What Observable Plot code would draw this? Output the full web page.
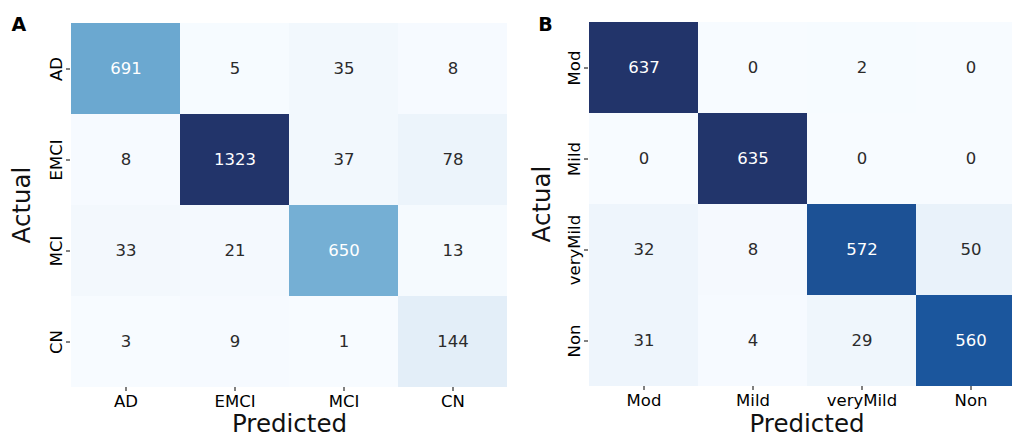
<!DOCTYPE html>
<html>
<head>
<meta charset="utf-8">
<script src="https://cdn.jsdelivr.net/npm/d3@7"></script>
<script src="https://cdn.jsdelivr.net/npm/@observablehq/plot@0.6"></script>
<style>
  html, body { margin: 0; padding: 0; background: #fff; }
  #wrap { position: relative; width: 1012px; height: 438px; overflow: hidden; font-family: "DejaVu Sans", sans-serif; }
  #pa, #pb { position: absolute; top: 0; }
  #pa { left: 0; width: 510px; }
  #pb { left: 510px; width: 515px; }
  #wrap svg { max-width: none !important; }
</style>
</head>
<body>
<div id="wrap"><div id="pa"></div><div id="pb"></div></div>
<script>
// Panel A data
const catsA = ["AD", "EMCI", "MCI", "CN"];
const valuesA = [
  [691, 5, 35, 8],
  [8, 1323, 37, 78],
  [33, 21, 650, 13],
  [3, 9, 1, 144]
];
// Panel B data
const catsB = ["Mod", "Mild", "veryMild", "Non"];
const valuesB = [
  [637, 0, 2, 0],
  [0, 635, 0, 0],
  [32, 8, 572, 50],
  [31, 4, 29, 560]
];
const colorStops = ["#f7fbff", "#e0ecf7", "#c8dcee", "#a0c9e0", "#72add3", "#4a93c4", "#2a72b2", "#1b579f", "#22346a"];
const blues = d3.piecewise(d3.interpolateRgb, colorStops);

function toRows(cats, vals) {
  const rows = [];
  cats.forEach((a, i) => cats.forEach((p, j) => rows.push({actual: a, pred: p, value: vals[i][j]})));
  return rows;
}

function heat(cats, vals, opts) {
  const data = toRows(cats, vals);
  const lo = d3.min(data, d => d.value), hi = d3.max(data, d => d.value);
  const font = "DejaVu Sans";
  return Plot.plot({
    width: opts.width,
    height: 438,
    marginLeft: opts.ml,
    marginRight: opts.mr,
    marginTop: opts.mt,
    marginBottom: 438 - opts.bottom,
    style: {fontFamily: font, background: "transparent", overflow: "visible", maxWidth: "none"},
    x: {domain: cats, padding: 0},
    y: {domain: cats, padding: 0},
    color: {type: "linear", domain: [lo, hi], interpolate: blues},
    marks: [
      Plot.cell(data, {x: "pred", y: "actual", fill: "value", inset: 0}),
      Plot.text(data, {x: "pred", y: "actual", text: d => String(d.value), fontSize: 16.5,
        fill: d => ((d.value - lo) / (hi - lo) > 0.45 ? "#ffffff" : "#2b2b2b")}),
      Plot.axisX({anchor: "bottom", tickSize: 4, tickPadding: 3.3, fontSize: 16.5, label: null, color: "#000"}),
      Plot.axisY({anchor: "left", tickSize: 4, tickRotate: -90, fontSize: 16.5, label: null, color: "#000"}),
      Plot.text(["Predicted"], {frameAnchor: "bottom", dy: opts.predDy, lineAnchor: "middle", textAnchor: "middle", fontSize: 24.5, fill: "#111"}),
      Plot.text(["Actual"], {frameAnchor: "left", dx: opts.actualDx, rotate: -90, lineAnchor: "middle", textAnchor: "middle", fontSize: 24.5, fill: "#111"}),
      Plot.text([opts.tag], {frameAnchor: "top-left", dx: opts.tagDx, dy: opts.tagDy, textAnchor: "start", lineAnchor: "top", fontSize: 19, fontWeight: "bold", fill: "#000"})
    ]
  });
}

document.getElementById("pa").appendChild(heat(catsA, valuesA, {width: 510, ml: 70, mr: 2, mt: 22, bottom: 387, predDy: 37, actualDx: -48, tag: "A", tagDx: -59, tagDy: -5.5}));
document.getElementById("pb").appendChild(heat(catsB, valuesB, {width: 515, ml: 78, mr: 0, mt: 21, bottom: 386, predDy: 38, actualDx: -46, tag: "B", tagDx: -50.3, tagDy: -4.5}));
</script>
</body>
</html>
